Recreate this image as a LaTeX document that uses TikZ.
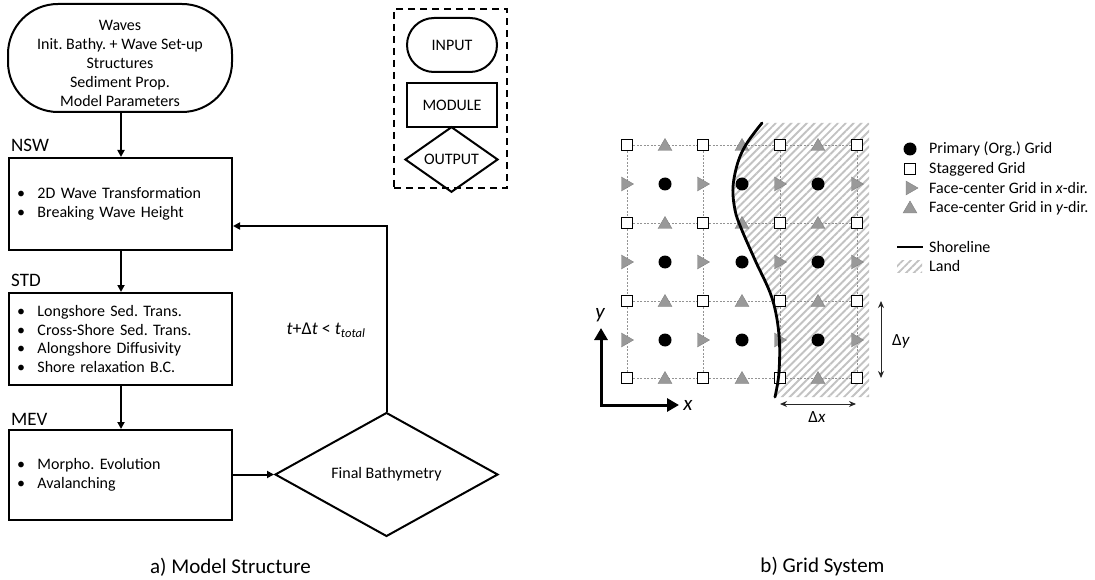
\documentclass[tikz,border=0pt]{standalone}
\usepackage{fontspec}
\setmainfont{Carlito}
\usetikzlibrary{shapes.geometric,arrows.meta,patterns.meta,calc}
\definecolor{trig}{gray}{0.6}
\definecolor{trigd}{gray}{0.5}
\definecolor{landg}{gray}{0.76}
\newcommand{\itembul}{\makebox[20.5pt][l]{\textbullet}}
\frenchspacing
\begin{document}
\begin{tikzpicture}[x=1pt,y=-1pt,
  txt/.style={font=\fontsize{16}{19}\selectfont, inner sep=0pt},
  inbox/.style={draw, line width=2pt, rounded corners=50pt, minimum width=224pt, minimum height=108pt, inner sep=0pt},
  module/.style={draw, line width=2pt, rectangle, text width=207pt, inner xsep=8pt, inner ysep=0pt, align=left, font=\fontsize{16}{18.8}\selectfont},
  outbox/.style={draw, diamond, line width=2pt, minimum width=223pt, minimum height=93pt, inner sep=0pt, font=\fontsize{16}{19}\selectfont},
  hdr/.style={font=\fontsize{19}{22}\selectfont, anchor=base west, inner sep=0pt},
  conn/.style={line width=2pt, -{Triangle[length=7pt,width=7pt]}},
  legframe/.style={draw, line width=2pt, dash pattern=on 7pt off 5pt, minimum width=113pt, minimum height=179pt},
  legin/.style={draw, line width=2pt, rounded corners=27pt, minimum width=90pt, minimum height=54pt, inner sep=0pt, font=\fontsize{16}{19}\selectfont},
  legmod/.style={draw, line width=2pt, minimum width=90pt, minimum height=44pt, inner sep=0pt, font=\fontsize{16}{19}\selectfont},
  legout/.style={draw, diamond, line width=2pt, minimum width=93pt, minimum height=45pt, inner sep=0pt, font=\fontsize{16}{19}\selectfont},
  sqm/.style={draw=black, fill=white, line width=1.3pt, minimum size=11.5pt, inner sep=0pt},
  dotm/.style={circle, fill=black, minimum size=13pt, inner sep=0pt},
  triu/.style={regular polygon, regular polygon sides=3, fill=trig, draw=trigd, line width=0.4pt, minimum size=16pt, inner sep=0pt},
  trir/.style={triu, shape border rotate=-90},
  gridln/.style={draw=gray!85, line width=0.6pt, dash pattern=on 2pt off 1.5pt},
  land/.style={pattern={Lines[angle=45,distance=5.5pt,line width=1.9pt]}, pattern color=landg},
  shore/.style={line width=2.8pt, line cap=round},
  axis/.style={line width=3pt, line join=miter, {Triangle[length=12pt,width=13pt]}-{Triangle[length=12pt,width=13pt]}},
  dimarr/.style={line width=1pt, black!85, {Stealth[length=7pt,width=6pt]}-{Stealth[length=7pt,width=6pt]}},
  gtxt/.style={font=\fontsize{16}{19}\selectfont, inner sep=0pt, anchor=west}
]
\useasboundingbox (0,0) rectangle (1095,580);

% ---------------- a) Model structure ----------------
\node[inbox] (in) at (120,58) {};
\node[txt, align=center] (intext) at (120,63) {Waves\\Init. Bathy. + Wave Set-up\\Structures\\Sediment Prop.\\Model Parameters};

\node[module, minimum height=92pt] (nsw) at (120.5,204) {\itembul 2D Wave Transformation\\\itembul Breaking Wave Height};
\node[module, minimum height=92pt] (std) at (120.5,339) {\itembul Longshore Sed. Trans.\\\itembul Cross-Shore Sed. Trans.\\\itembul Alongshore Diffusivity\\\itembul Shore relaxation B.C.};
\node[module, minimum height=90pt] (mev) at (120.5,475) {\itembul Morpho. Evolution\\\itembul Avalanching};

\node[hdr] (nswlab) at (11,152) {NSW};
\node[hdr] (stdlab) at (11,287) {STD};
\node[hdr] (mevlab) at (11,425) {MEV};

\node[outbox] (fb) at (386.5,474.5) {Final Bathymetry};

\draw[conn] (in.south -| 121,0) -- (121,0 |- nsw.north);
\draw[conn] (nsw.south -| 121,0) -- (121,0 |- std.north);
\draw[conn] (std.south -| 121,0) -- (121,0 |- mev.north);
\draw[conn] (mev.east |- fb.west) -- (fb.west);
\coordinate (turn) at (386.5,226);
\draw[conn] (fb.north) -- (turn) -- (turn -| nsw.east);

\node[font=\fontsize{18}{21}\selectfont, inner sep=0pt] (cond) at (326,330) {\textit{t}+Δ\textit{t} < \textit{t}\textsubscript{\textit{total}}};

% legend
\node[legframe] (leg) at (450.5,98.5) {};
\node[legin] (lin) at (452,45) {INPUT};
\node[legmod] (lmod) at (452,105) {MODULE};
\node[legout] (lout) at (451.5,159.5) {OUTPUT};

% ---------------- b) Grid system ----------------
\fill[land] plot[smooth, tension=0.6] coordinates {(762,123) (747,143) (738,162) (733,187) (735,210) (741,228) (755,260) (772,298) (779,335) (779,372) (775,397)} -- (869,397) -- (869,123) -- cycle;

\foreach \c/\x in {1/627,2/703,3/780,4/857}
  \foreach \r/\y in {1/145,2/223,3/301,4/378}
    \node[sqm] (sq-\c-\r) at (\x,\y) {};
\foreach \r in {1,2,3,4} \draw[gridln] (sq-1-\r) -- (sq-2-\r) -- (sq-3-\r) -- (sq-4-\r);
\foreach \c in {1,2,3,4} \draw[gridln] (sq-\c-1) -- (sq-\c-2) -- (sq-\c-3) -- (sq-\c-4);

\foreach \c/\x in {1/665,2/742,3/818}
  \foreach \r/\y in {1/145,2/223,3/301,4/378}
    \node[triu] (tu-\c-\r) at (\x,\y+1.5) {};
\foreach \c/\x in {1/627,2/703,3/780,4/857}
  \foreach \r/\y in {1/184,2/262,3/340}
    \node[trir] (tr-\c-\r) at (\x-1.5,\y) {};
\foreach \c/\x in {1/665,2/742,3/818}
  \foreach \r/\y in {1/184,2/262,3/340}
    \node[dotm] (dt-\c-\r) at (\x,\y) {};

\draw[shore] plot[smooth, tension=0.6] coordinates {(762,123) (747,143) (738,162) (733,187) (735,210) (741,228) (755,260) (772,298) (779,335) (779,372) (775,397)};

% axes
\coordinate (org) at (601,405);
\coordinate (ytip) at (601,328);
\coordinate (xtip) at (679,405);
\draw[axis] (ytip) -- (org) -- (xtip);
\node[font=\fontsize{21}{24}\selectfont\itshape, inner sep=0pt] (ylab) at (600,315) {y};
\node[font=\fontsize{21}{24}\selectfont\itshape, inner sep=0pt] (xlab) at (688,405) {x};

% dimensions
\coordinate (dyt) at (881,301);
\coordinate (dyb) at (881,378);
\draw[dimarr] (dyt) -- (dyb);
\node[font=\fontsize{17}{20}\selectfont, inner sep=0pt] (dylab) at (901,341) {Δ\textit{y}};
\coordinate (dxl) at (780,404);
\coordinate (dxr) at (856,404);
\draw[dimarr] (dxl) -- (dxr);
\node[font=\fontsize{17}{20}\selectfont, inner sep=0pt] (dxlab) at (817,417) {Δ\textit{x}};

% grid legend
\node[dotm] (gl1) at (910,149) {};
\node[gtxt] (gt1) at (929,149) {Primary (Org.) Grid};
\node[sqm] (gl2) at (910,169) {};
\node[gtxt] (gt2) at (929,169) {Staggered Grid};
\node[trir] (gl3) at (910,188) {};
\node[gtxt] (gt3) at (929,188) {Face-center Grid in \textit{x}-dir.};
\node[triu] (gl4) at (910,209) {};
\node[gtxt] (gt4) at (929,208) {Face-center Grid in \textit{y}-dir.};
\coordinate (sl1) at (897,247);
\coordinate (sl2) at (923,247);
\draw[line width=2.5pt] (sl1) -- (sl2);
\node[gtxt] (gt5) at (929,247) {Shoreline};
\fill[land] (897,260) rectangle (922,272);
\node[gtxt] (gt6) at (929,266) {Land};

% captions
\node[font=\fontsize{21}{24}\selectfont, inner sep=0pt] (capa) at (230.5,567) {a) Model Structure};
\node[font=\fontsize{21}{24}\selectfont, inner sep=0pt] (capb) at (822.5,567) {b) Grid System};
\end{tikzpicture}
\end{document}
